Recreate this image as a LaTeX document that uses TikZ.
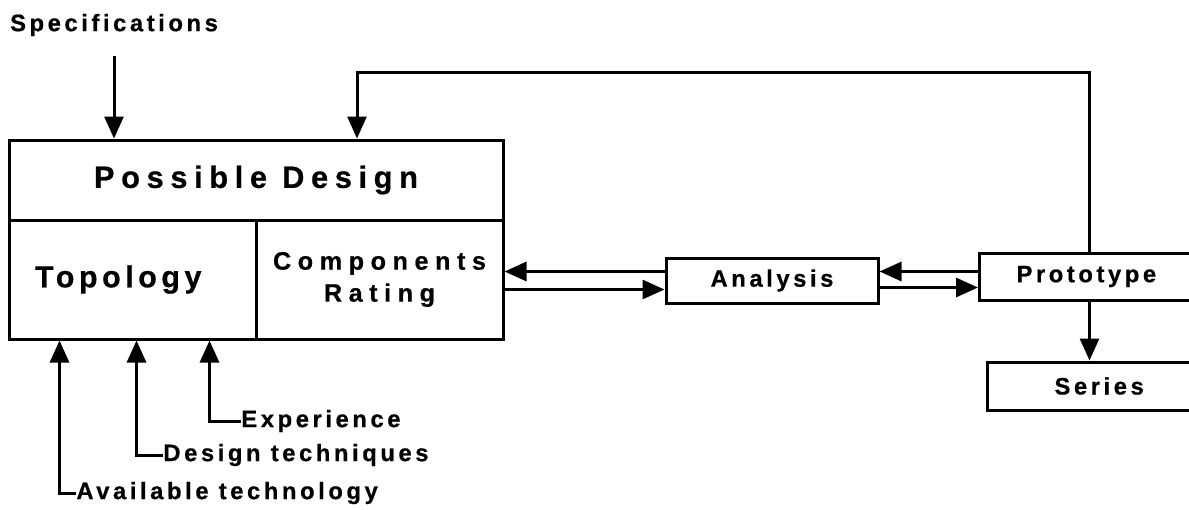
\documentclass[tikz,border=0pt]{standalone}
\usepackage{fontspec}
\setmainfont{Liberation Sans}[LetterSpace=15, FakeBold=0.6]
\usetikzlibrary{arrows.meta}

\tikzset{
  box/.style={draw, line width=1.5pt, inner sep=0pt, font=\bfseries\fontsize{11.9}{14}\selectfont},
  lbl/.style={inner sep=0pt, font=\bfseries\fontsize{11.9}{14}\selectfont},
  arr/.style={-{Triangle[length=11pt,width=9.5pt]}, line width=1.5pt},
}

\begin{document}
\begin{tikzpicture}[x=0.5pt, y=-0.5pt]
  \clip (0,0) rectangle (1189,509);

  % the design block
  \node (design) [box, minimum width=247pt, minimum height=40pt,
    font=\bfseries\fontsize{15.4}{18}\selectfont\addfontfeature{LetterSpace=21.5}] at (256,180) {Possible Design};
  \node (topo) [box, minimum width=123.5pt, minimum height=59.5pt, text width=97.5pt,
    inner xsep=13pt, align=left, font=\bfseries\fontsize{15.2}{18}\selectfont] at (132.5,279.5) {Topology};
  \node (comp) [box, minimum width=123.5pt, minimum height=59.5pt, align=center,
    font=\bfseries\fontsize{12.6}{16}\selectfont\addfontfeature{LetterSpace=26}] at (379.5,279.5) {Components\\Rating};

  \node (ana) [box, minimum width=106pt, minimum height=22.5pt] at (772,280.5) {Analysis};
  \node (proto) [box, anchor=west, minimum height=23.5pt, text width=73pt,
    inner xsep=18.5pt, align=left] at (978,276.5) {Prototype};
  \node (series) [box, anchor=west, minimum height=24pt, text width=43pt,
    inner xsep=33.5pt, align=left] at (986,386) {Series};

  % inputs
  \node (spec) [lbl] at (114,25) {Specifications};
  \node (avail) [lbl, anchor=west] at (76,493) {Available technology};
  \node (tech) [lbl, anchor=west] at (163,455) {Design techniques};
  \node (exper) [lbl, anchor=west] at (241,421) {Experience};

  \coordinate (fb) at (357,72);

  \draw [arr, shorten <=10pt] (spec.south) -- (spec.south |- design.north);
  \draw [arr] (proto.north) |- (fb) -- (fb |- design.north);

  \draw [arr] ([yshift=4.5pt]ana.west) -- ([yshift=4.5pt]ana.west -| comp.east);
  \draw [arr] ([yshift=-4.5pt]ana.west -| comp.east) -- ([yshift=-4.5pt]ana.west);

  \draw [arr] ([yshift=4.5pt]ana.east -| proto.west) -- ([yshift=4.5pt]ana.east);
  \draw [arr] ([yshift=-3.5pt]ana.east) -- ([yshift=-3.5pt]ana.east -| proto.west);

  \draw [arr] (proto.south) -- (proto.south |- series.north);

  % bottom arrows
  \draw [arr] (avail.west) -| ([xshift=26pt]topo.south west);
  \draw [arr] (tech.west) -| ([xshift=64.5pt]topo.south west);
  \draw [arr] (exper.west) -| ([xshift=101pt]topo.south west);

\end{tikzpicture}
\end{document}
